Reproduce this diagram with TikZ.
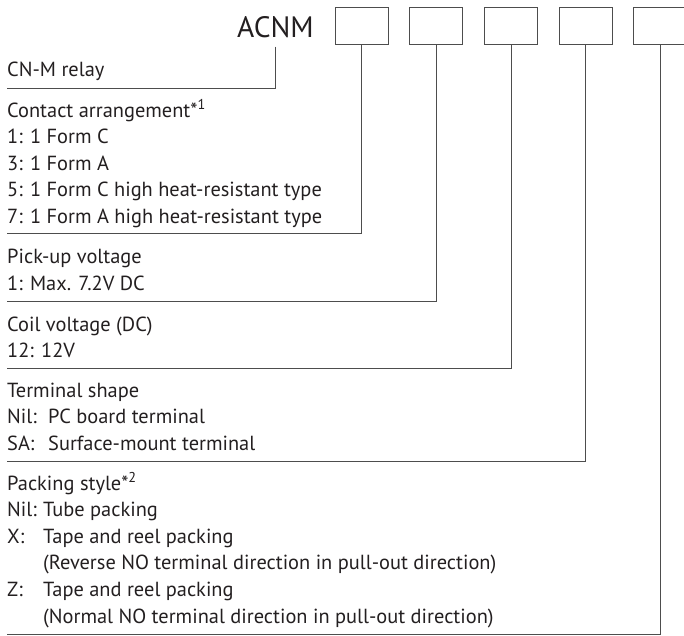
\documentclass[tikz,border=0pt]{standalone}
\usepackage{fontspec}
\setmainfont{PT Sans}
\definecolor{txt}{HTML}{231F20}
\definecolor{ln}{HTML}{4D4D4D}
\begin{document}
\begin{tikzpicture}[x=1pt,y=-1pt,
  lbl/.style={anchor=base west,inner sep=0pt,text=txt,font=\fontsize{20.4}{24}\selectfont},
  codebox/.style={draw=ln,line width=0.9pt,minimum width=53pt,minimum height=37pt,inner sep=0pt},
  lead/.style={draw=ln,line width=0.9pt}]
\useasboundingbox (0,0) rectangle (684,635);
% header
\node[anchor=base,inner sep=0pt,text=txt,font=\fontsize{29.5}{33}\selectfont] (acnm) at (275.5,37) {ACNM};
\foreach \i/\x in {1/361.5,2/436.3,3/511,4/585.7,5/660.4}
  \node[codebox] (b\i) at (\x,25.5) {};
% texts
\node[lbl] (t0) at (7,76) {CN-M relay};
\node[lbl] (t1a) at (7,117) {Contact arrangement*\textsuperscript{1}};
\node[lbl] (t1b) at (7,143.5) {1: 1 Form C};
\node[lbl] (t1c) at (7,170) {3: 1 Form A};
\node[lbl] (t1d) at (7,196.5) {5: 1 Form C high heat-resistant type};
\node[lbl] (t1e) at (7,223) {7: 1 Form A high heat-resistant type};
\node[lbl] (t2a) at (7,263) {Pick-up voltage};
\node[lbl] (t2b) at (7,290) {1: Max. 7.2V DC};
\node[lbl] (t3a) at (7,331) {Coil voltage (DC)};
\node[lbl] (t3b) at (7,357) {12: 12V};
\node[lbl] (t4a) at (7,397) {Terminal shape};
\node[lbl] (t4b) at (7,423.5) {Nil:};
\node[lbl] (t4b2) at (48,423.5) {PC board terminal};
\node[lbl] (t4c) at (7,450) {SA:};
\node[lbl] (t4c2) at (48,450) {Surface-mount terminal};
\node[lbl] (t5a) at (7,490) {Packing style*\textsuperscript{2}};
\node[lbl] (t5b) at (7,516.5) {Nil:};
\node[lbl] (t5b2) at (43,516.5) {Tube packing};
\node[lbl] (t5c) at (7,543) {X:};
\node[lbl] (t5c2) at (43,543) {Tape and reel packing};
\node[lbl] (t5d) at (43,569.5) {(Reverse NO terminal direction in pull-out direction)};
\node[lbl] (t5e) at (7,596.5) {Z:};
\node[lbl] (t5e2) at (43,596.5) {Tape and reel packing};
\node[lbl] (t5f) at (43,623) {(Normal NO terminal direction in pull-out direction)};
% line ends
\coordinate (e0) at (7,88);
\coordinate (e1) at (7,233);
\coordinate (e2) at (7,301);
\coordinate (e3) at (7,368);
\coordinate (e4) at (7,461);
\coordinate (e5) at (7,634);
% connectors
\draw[lead] ([yshift=-9pt]acnm.south) |- (e0);
\draw[lead] (b1.south) |- (e1);
\draw[lead] (b2.south) |- (e2);
\draw[lead] (b3.south) |- (e3);
\draw[lead] (b4.south) |- (e4);
\draw[lead] (b5.south) |- (e5);
\end{tikzpicture}
\end{document}
